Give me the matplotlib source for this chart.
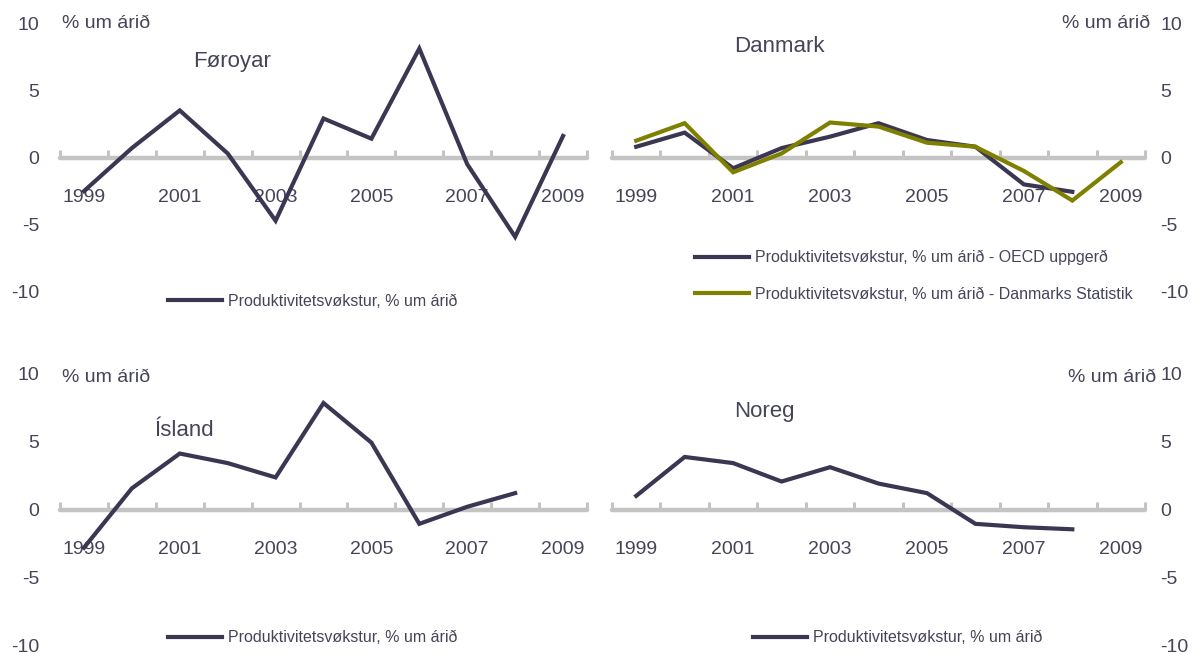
import matplotlib
matplotlib.use("Agg")
import matplotlib.pyplot as plt
from matplotlib.ticker import FixedLocator, NullFormatter

plt.rcParams['font.family'] = ['Liberation Sans', 'DejaVu Sans']

years = [1999, 2000, 2001, 2002, 2003, 2004, 2005, 2006, 2007, 2008, 2009]
year_labels = ['1999', '2001', '2003', '2005', '2007', '2009']
y_ticks = [-10, -5, 0, 5, 10]
y_tick_labels = ['-10', '-5', '0', '5', '10']
unit_label = '% um árið'
legend_label = 'Produktivitetsvøkstur, % um árið'

foroyar = [-2.5, 0.7, 3.5, 0.3, -4.7, 2.9, 1.4, 8.1, -0.5, -5.9, 1.6]
danmark_oecd = [0.8, 1.85, -0.8, 0.7, 1.55, 2.55, 1.3, 0.8, -2.0, -2.55, None]
danmark_ds = [1.25, 2.55, -1.1, 0.3, 2.6, 2.3, 1.1, 0.8, -1.0, -3.2, -0.35]
island = [-2.8, 1.55, 4.1, 3.4, 2.35, 7.8, 4.9, -1.05, 0.2, 1.2, None]
noreg = [1.0, 3.85, 3.4, 2.05, 3.1, 1.9, 1.2, -1.05, -1.3, -1.45, None]

W, H = 1193, 653
DARK = '#3b3753'
OLIVE = '#7f8000'
GRAY = '#c4c4c4'
TXT = '#45455a'

fig = plt.figure(figsize=(W / 100, H / 100), dpi=100)


def fx(px):
    return px / W


def fy(py):
    return 1 - py / H


def make_axes(left, right, top10, bottom10, side):
    ax = fig.add_axes([fx(left), fy(bottom10), fx(right - left), (bottom10 - top10) / H])
    ax.set_xlim(-0.5, len(years) - 0.5)
    ax.set_ylim(-10, 10)
    for s in ['top', 'left', 'right']:
        ax.spines[s].set_visible(False)
    ax.spines['bottom'].set_position(('data', 0))
    ax.spines['bottom'].set_color(GRAY)
    ax.spines['bottom'].set_linewidth(3.2)
    ax.spines['bottom'].set_capstyle('round')
    ax.spines['bottom'].set_zorder(1)
    n = len(years)
    ax.xaxis.set_major_locator(FixedLocator([i - 0.5 for i in range(n + 1)]))
    ax.xaxis.set_major_formatter(NullFormatter())
    ax.tick_params(axis='x', which='major', direction='in', length=6, width=2.2, color=GRAY)
    ax.set_xticks([years.index(int(y)) for y in year_labels], year_labels, minor=True)
    ax.tick_params(axis='x', which='minor', length=0, pad=23, labelsize=14, labelcolor=TXT)
    ax.set_yticks(y_ticks, y_tick_labels)
    if side == 'left':
        ax.tick_params(axis='y', length=0, pad=15, labelsize=14, labelcolor=TXT,
                       left=False, labelleft=True, right=False, labelright=False)
    else:
        ax.tick_params(axis='y', length=0, pad=11, labelsize=14, labelcolor=TXT,
                       left=False, labelleft=False, right=False, labelright=True)
    ax.patch.set_alpha(0)
    return ax


def plot_series(ax, vals, color, label):
    xs = [i for i, v in enumerate(vals) if v is not None]
    ys = [v for v in vals if v is not None]
    line, = ax.plot(xs, ys, color=color, lw=3.0, solid_joinstyle='miter',
                    label=label, zorder=3, clip_on=False)
    return line


def add_legend(ax, x, y, spacing=1.0):
    ax.legend(loc='center left', bbox_to_anchor=(fx(x), fy(y)),
              bbox_transform=fig.transFigure, frameon=False, fontsize=11.5,
              handlelength=3.4, handletextpad=0.35, borderpad=0, borderaxespad=0,
              labelspacing=spacing, labelcolor=TXT)


# Føroyar
ax1 = make_axes(60, 587, 23, 292, 'left')
plot_series(ax1, foroyar, DARK, legend_label)
add_legend(ax1, 168, 301)
fig.text(fx(193), fy(62), 'Føroyar', fontsize=16, color=TXT, ha='left', va='center')
fig.text(fx(62), fy(23), unit_label, fontsize=14, color=TXT, ha='left', va='center')

# Danmark
ax2 = make_axes(612, 1145, 23, 292, 'right')
plot_series(ax2, danmark_oecd, DARK, legend_label + ' - OECD uppgerð')
plot_series(ax2, danmark_ds, OLIVE, legend_label + ' - Danmarks Statistik')
add_legend(ax2, 695, 276, spacing=1.35)
fig.text(fx(734), fy(47), 'Danmark', fontsize=16, color=TXT, ha='left', va='center')
fig.text(fx(1150), fy(23), unit_label, fontsize=14, color=TXT, ha='right', va='center')

# Ísland
ax3 = make_axes(60, 587, 373, 646, 'left')
plot_series(ax3, island, DARK, legend_label)
add_legend(ax3, 168, 638)
fig.text(fx(155), fy(430), 'Ísland', fontsize=16, color=TXT, ha='left', va='center')
fig.text(fx(62), fy(378), unit_label, fontsize=14, color=TXT, ha='left', va='center')

# Noreg
ax4 = make_axes(612, 1145, 373, 646, 'right')
plot_series(ax4, noreg, DARK, legend_label)
add_legend(ax4, 753, 638)
fig.text(fx(734), fy(412), 'Noreg', fontsize=16, color=TXT, ha='left', va='center')
fig.text(fx(1156), fy(378), unit_label, fontsize=14, color=TXT, ha='right', va='center')

fig.savefig('out.png', dpi=100)
